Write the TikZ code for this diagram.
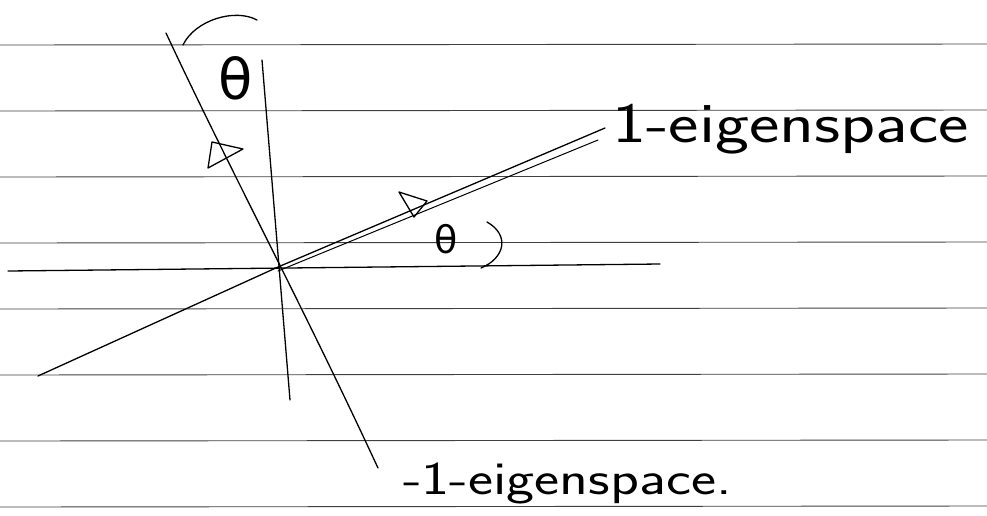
\documentclass[tikz,border=0pt]{standalone}
\usepackage{fontspec}
\newfontfamily\gkfont{DejaVu Sans}
\begin{document}
\begin{tikzpicture}[x=1pt,y=-1pt,
  rule/.style={line width=0.9pt,black!75},
  pen/.style={line width=1.3pt,black,line cap=round,line join=round},
  hand/.style={font=\sffamily,inner sep=0pt}]
\useasboundingbox (0,0) rectangle (987,515);
% ruled lines of the paper
\foreach \y in {45,111,177,243,309,375,441,507}
  \draw[rule] (0,\y) -- (987,\y-1);
% named points
\coordinate (O) at (278,267);
\coordinate (axL) at (8,271);
\coordinate (axR) at (660,264);
\coordinate (vT) at (262,60);
\coordinate (vB) at (290,400);
\coordinate (sT) at (166,33);
\coordinate (sB) at (378,468);
\coordinate (eL) at (38,376);
\coordinate (eR) at (605,128);
% horizontal axis
\draw[pen] (axL) -- (axR);
% vertical line
\draw[pen] (vT) -- (vB);
% -1 eigenspace (steep line)
\draw[pen] (sT) .. controls (230,170) and (300,300) .. (sB);
% 1 eigenspace (long line), doubled on the upper part
\draw[pen] (eL) -- (O) -- (eR);
\draw[pen,line width=1pt] ([shift={(0,4)}]O) -- (598,140);
% open arrowheads
\draw[pen] (212,142) -- (208,168) -- (243,149) -- cycle;
\draw[pen] (399,192) -- (427,201) -- (414,217) -- cycle;
% angle arcs
\draw[pen] (183,45) .. controls (195,20) and (235,8) .. (257,20);
\draw[pen] (487,222) .. controls (510,235) and (505,258) .. (481,268);
% thetas
\node[hand,font=\gkfont\fontsize{56}{56}\selectfont] (th1) at (236,78) {θ};
\node[hand,font=\gkfont\fontsize{38}{38}\selectfont] (th2) at (446,239) {θ};
% labels
\node[hand,anchor=base west,xscale=1.27,font=\sffamily\fontsize{57}{57}\selectfont] (l1) at (612,142) {1-eigenspace};
\node[hand,anchor=base west,xscale=1.27,font=\sffamily\fontsize{47}{47}\selectfont] (l2) at (403,494) {-1-eigenspace.};
\end{tikzpicture}
\end{document}
